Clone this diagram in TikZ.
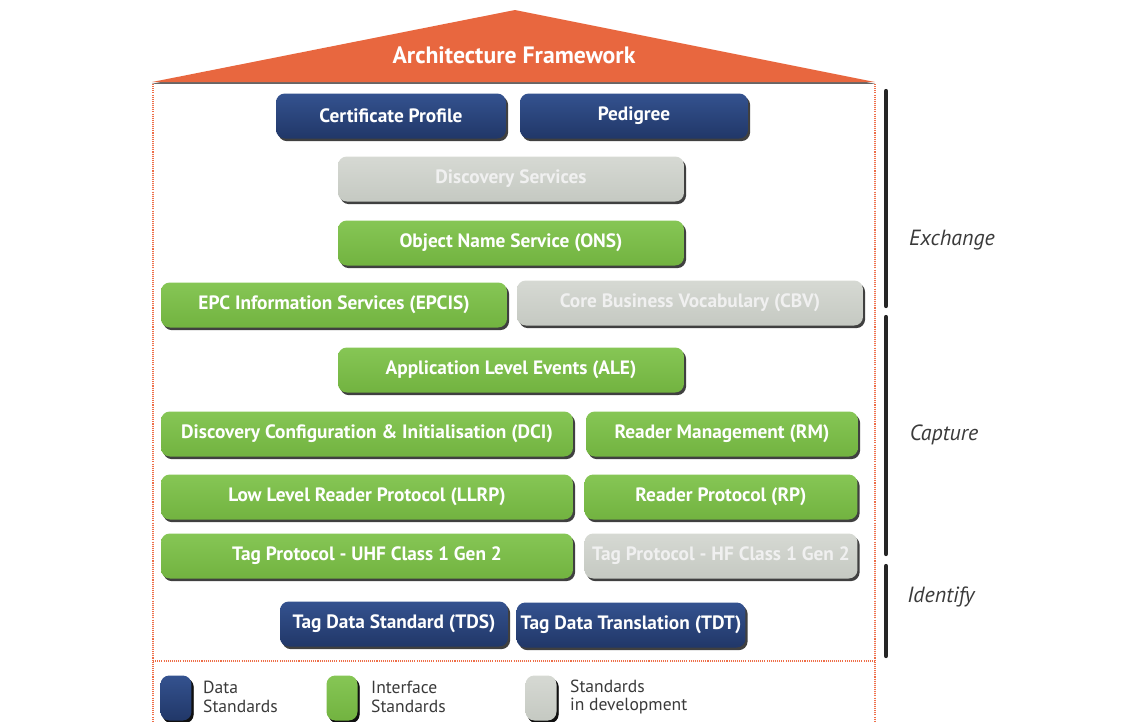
\documentclass[tikz,border=0pt]{standalone}
\usepackage{fontspec}
\setmainfont{PT Sans}
\usetikzlibrary{shadows}
\definecolor{roof}{HTML}{E8673F}
\definecolor{navy}{HTML}{213768}
\definecolor{navytop}{HTML}{34528F}
\definecolor{iface}{HTML}{72B340}
\definecolor{ifacetop}{HTML}{86C655}
\definecolor{devel}{HTML}{C5C9C2}
\definecolor{develtop}{HTML}{D6D9D3}
\definecolor{frameline}{HTML}{EE6E48}
\definecolor{labelgrey}{HTML}{3A3A3A}
\begin{document}
\begin{tikzpicture}[x=0.02cm, y=-0.02cm,
  box/.style={rounded corners=5pt, inner sep=0pt, minimum height=0.9cm, text=white,
    font=\fontsize{11}{12}\selectfont\bfseries,
    drop shadow={shadow xshift=1.2pt, shadow yshift=-1.5pt, opacity=0.75, fill=black}},
  databox/.style={box, top color=navytop, bottom color=navy},
  ifacebox/.style={box, top color=ifacetop, bottom color=iface},
  devbox/.style={box, top color=develtop, bottom color=devel, text=white!94!black},
  keybox/.style={box, minimum width=0.62cm, minimum height=0.7cm},
  keytext/.style={anchor=west, align=left, text=labelgrey, font=\fontsize{10}{10.5}\selectfont},
  layer/.style={text=labelgrey, font=\fontsize{12.5}{14}\selectfont\itshape},
  bar/.style={line width=2.4pt, line cap=round, black!85},
  dots/.style={frameline, line width=0.7pt, dash pattern=on 0.6pt off 0.6pt}]
\useasboundingbox (0,0) rectangle (1143,721);

% roof
\fill[roof, drop shadow={shadow xshift=0pt, shadow yshift=-1pt, opacity=0.6, fill=black}]
  (152,82) -- (515,10) -- (875,82) -- cycle;
\node (title) at (514,55) [text=white, font=\fontsize{13.5}{15}\selectfont\bfseries] {Architecture Framework};

% frame
\draw[dots] (153,84) -- (153,721);
\draw[dots] (875,84) -- (875,721);
\draw[dots] (153,661) -- (875,661);

% exchange
\node (cert) at (391,116) [databox, minimum width=4.6cm] {Certificate Profile};
\node (ped) at (634,116) [databox, minimum width=4.56cm] {Pedigree};
\node (disc) at (511,179) [devbox, minimum width=6.92cm] {Discovery Services};
\node (ons) at (511,243) [ifacebox, minimum width=6.92cm] {Object Name Service (ONS)};
\node (epcis) at (334,305) [ifacebox, minimum width=6.92cm] {EPC Information Services (EPCIS)};
\node (cbv) at (690,303) [devbox, minimum width=6.92cm] {Core Business Vocabulary (CBV)};

% capture
\node (ale) at (511,370) [ifacebox, minimum width=6.92cm] {Application Level Events (ALE)};
\node (dci) at (367,434) [ifacebox, minimum width=8.24cm] {Discovery Configuration \& Initialisation (DCI)};
\node (rm) at (722,434) [ifacebox, minimum width=5.44cm] {Reader Management (RM)};
\node (llrp) at (367,497) [ifacebox, minimum width=8.24cm] {Low Level Reader Protocol (LLRP)};
\node (rp) at (721,497) [ifacebox, minimum width=5.46cm] {Reader Protocol (RP)};
\node (uhf) at (367,556) [ifacebox, minimum width=8.24cm] {Tag Protocol - UHF Class 1 Gen 2};
\node (hf) at (721,556) [devbox, minimum width=5.46cm] {Tag Protocol - HF Class 1 Gen 2};

% identify
\node (tds) at (394,624) [databox, minimum width=4.56cm] {Tag Data Standard (TDS)};
\node (tdt) at (631,625) [databox, minimum width=4.58cm] {Tag Data Translation (TDT)};

% layers
\draw[bar] (886,91) -- (886,306);
\draw[bar] (886,317) -- (886,554);
\draw[bar] (886,566) -- (886,656);
\node (exch) at (952,240) [layer] {Exchange};
\node (capt) at (944,435) [layer] {Capture};
\node (ident) at (941,597) [layer] {Identify};

% key
\node (kdata) at (176,698) [keybox, databox, minimum width=0.62cm] {};
\node (kiface) at (342,698) [keybox, ifacebox, minimum width=0.62cm] {};
\node (kdev) at (541,698) [keybox, devbox, minimum width=0.62cm] {};
\node at (197,697) [keytext] {Data\\Standards};
\node at (365,697) [keytext] {Interface\\Standards};
\node at (564,697) [keytext] {Standards\\in development};
\end{tikzpicture}
\end{document}
